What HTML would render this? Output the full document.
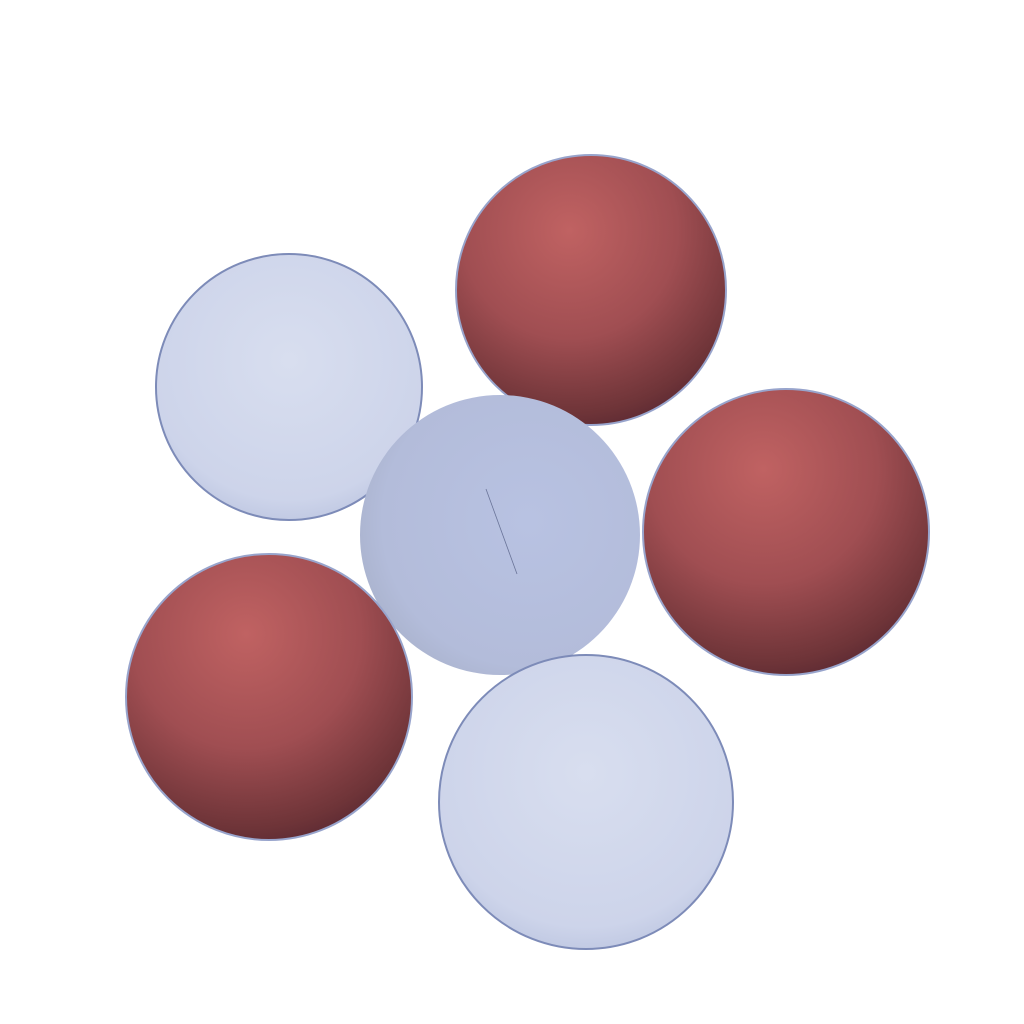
<!DOCTYPE html>
<html><head><meta charset="utf-8"><style>html,body{margin:0;background:#fff}svg{display:block}</style></head>
<body>
<svg id="scene" width="1024" height="1024" viewBox="0 0 1024 1024">
<defs>
<radialGradient id="gRed" cx="0.42" cy="0.28" r="0.8">
<stop offset="0" stop-color="#c06262"/><stop offset="0.5" stop-color="#a04e52"/><stop offset="0.85" stop-color="#6e3438"/><stop offset="1" stop-color="#522430"/></radialGradient>
<radialGradient id="gLight" cx="0.5" cy="0.4" r="0.7">
<stop offset="0" stop-color="#d8deef"/><stop offset="0.75" stop-color="#cdd4ea"/><stop offset="1" stop-color="#b3bddb"/></radialGradient>
<radialGradient id="gCenter" cx="0.6" cy="0.45" r="0.65">
<stop offset="0" stop-color="#b8c2e2"/><stop offset="0.8" stop-color="#b3bcda"/><stop offset="1" stop-color="#a9b2cc"/></radialGradient>
</defs>
<g id="spheres"></g>
</svg>
<script>
const sphereNames = ['upper-left-light-sphere','top-red-sphere','center-sphere','right-red-sphere','lower-left-red-sphere','bottom-light-sphere'];
const sphereX = [289, 591, 500, 786, 269, 586];
const sphereY = [387, 290, 535, 532, 697, 802];
const sphereR = [133, 135, 140, 143, 143, 147];
const sphereKind = ['light','red','center','red','red','light'];
const g = document.getElementById('spheres');
const ns = 'http://www.w3.org/2000/svg';
const fills = {light:'url(#gLight)', red:'url(#gRed)', center:'url(#gCenter)'};
const strokes = {light:'#7d8bb8', red:'#98a4cc', center:'none'};
for (let i = 0; i < sphereNames.length; i++) {
  const c = document.createElementNS(ns, 'circle');
  c.setAttribute('cx', sphereX[i]);
  c.setAttribute('cy', sphereY[i]);
  c.setAttribute('r', sphereR[i]);
  c.setAttribute('fill', fills[sphereKind[i]]);
  c.setAttribute('stroke', strokes[sphereKind[i]]);
  c.setAttribute('stroke-width', sphereKind[i] === 'center' ? 0 : 2);
  
  
  g.appendChild(c);
}
const ln = document.createElementNS(ns, 'line');
ln.setAttribute('x1', 486); ln.setAttribute('y1', 489);
ln.setAttribute('x2', 517); ln.setAttribute('y2', 574);
ln.setAttribute('stroke', '#6a7498'); ln.setAttribute('stroke-width', 0.8);


g.appendChild(ln);
</script>
</body></html>
